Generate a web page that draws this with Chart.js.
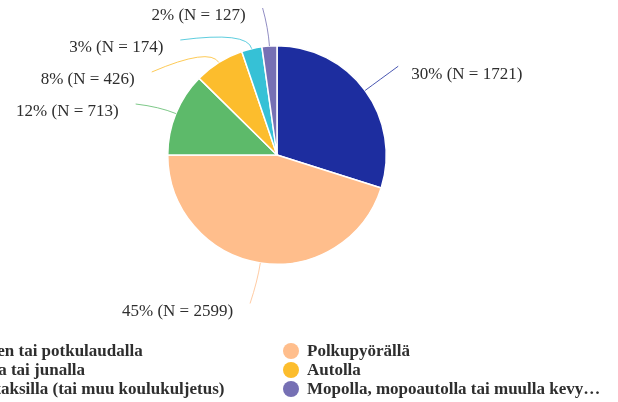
<!DOCTYPE html>
<html>
<head>
<meta charset="utf-8">
<script src="https://cdn.jsdelivr.net/npm/chart.js@4.4.1/dist/chart.umd.min.js"></script>
<style>
  html, body { margin: 0; padding: 0; background: #ffffff; }
  #chart { display: block; }
</style>
</head>
<body>
<canvas id="chart" width="618" height="402"></canvas>
<script>
(function () {
  'use strict';

  /*--------- DATA --------*/

  const categories = [
    'Kävellen tai potkulaudalla',
    'Polkupyörällä',
    'Bussilla tai junalla',
    'Autolla',
    'Koulutaksilla (tai muu koulukuljetus)',
    'Mopolla, mopoautolla tai muulla kevyellä moottoriajoneuvolla'
  ];
  const counts   = [1721, 2599, 713, 426, 174, 127];
  const percents = [30, 45, 12, 8, 3, 2];
  const colors   = ['#1d2d9f', '#ffbe8c', '#5dba6a', '#fcbd2d', '#36c1d6', '#7670b4'];


  /*--------- STYLE CONSTANTS --------*/

  const FONT = '"Liberation Serif", "Times New Roman", serif';
  const TEXT_COLOR = '#2e2e2e';

  const LABEL_DIST = 41;      // leader end distance outside the pie
  const LABEL_SPACING = 32;   // min vertical gap between labels on one side
  const LABEL_TOP = 8;        // labels may not go above this

  const LEGEND_X = [-66, 291];   // marker centres of the two legend columns
  const LEGEND_Y0 = 351;
  const LEGEND_ROW = 19;
  const LEGEND_TEXT_MAX = 297;


  // ── Outside labels with curved leader lines ──
  const outLabels = {
    id: 'outLabels',
    afterDatasetsDraw: function (chart) {
      const ctx = chart.ctx;
      const arcs = chart.getDatasetMeta(0).data;

      const items = arcs.map(function (arc, i) {
        const p = arc.getProps(['x', 'y', 'startAngle', 'endAngle', 'outerRadius'], true);
        const mid = (p.startAngle + p.endAngle) / 2;
        const R = p.outerRadius + LABEL_DIST;
        return {
          i: i, cx: p.x, cy: p.y, r: p.outerRadius, mid: mid, R: R,
          right: Math.cos(mid) >= 0,
          ix: p.x + Math.cos(mid) * R,
          iy: p.y + Math.sin(mid) * R
        };
      });

      // spread labels vertically on each side
      [true, false].forEach(function (side) {
        const group = items.filter(function (it) { return it.right === side; })
          .sort(function (a, b) { return a.iy - b.iy; });
        let prev = -Infinity;
        group.forEach(function (it) {
          it.ey = Math.max(it.iy, prev + LABEL_SPACING, LABEL_TOP);
          prev = it.ey;
          const dy = it.ey - it.cy;
          if (Math.abs(it.ey - it.iy) < 4) {
            it.ex = it.ix - (side ? 0 : 4);
          } else {
            it.ex = it.cx + (side ? 1 : -1) * Math.sqrt(Math.max(it.R * it.R - dy * dy, 0));
          }
        });
      });

      ctx.save();
      items.forEach(function (it) {
        const cos = Math.cos(it.mid), sin = Math.sin(it.mid);
        ctx.strokeStyle = colors[it.i];
        ctx.globalAlpha = 0.8;
        ctx.lineWidth = 1;
        ctx.beginPath();
        ctx.moveTo(it.cx + cos * it.r, it.cy + sin * it.r);
        ctx.quadraticCurveTo(it.cx + cos * (it.r + 18), it.cy + sin * (it.r + 18), it.ex, it.ey);
        ctx.stroke();

        ctx.globalAlpha = 1;
        ctx.fillStyle = TEXT_COLOR;
        ctx.font = '17px ' + FONT;
        ctx.textBaseline = 'middle';
        ctx.textAlign = it.right ? 'left' : 'right';
        const text = percents[it.i] + '% (N = ' + counts[it.i] + ')';
        ctx.fillText(text, it.ex + (it.right ? 13 : -17), it.ey + 8);
      });
      ctx.restore();
    }
  };


  // ── Two-column legend at the bottom ──
  function fitText(ctx, text, maxWidth) {
    if (ctx.measureText(text).width <= maxWidth) return text;
    let s = text;
    while (s.length > 0 && ctx.measureText(s + '…').width > maxWidth) {
      s = s.slice(0, -1);
    }
    return s + '…';
  }

  const columnLegend = {
    id: 'columnLegend',
    afterDraw: function (chart) {
      const ctx = chart.ctx;
      ctx.save();
      ctx.font = 'bold 17px ' + FONT;
      ctx.textBaseline = 'middle';
      ctx.textAlign = 'left';
      categories.forEach(function (label, i) {
        const x = LEGEND_X[i % 2];
        const y = LEGEND_Y0 + Math.floor(i / 2) * LEGEND_ROW;
        ctx.fillStyle = colors[i];
        ctx.beginPath();
        ctx.arc(x, y, 8, 0, Math.PI * 2);
        ctx.fill();
        ctx.fillStyle = TEXT_COLOR;
        ctx.fillText(fitText(ctx, label, LEGEND_TEXT_MAX), x + 16, y + 1);
      });
      ctx.restore();
    }
  };


  /*--------- CHART --------*/

  new Chart(document.getElementById('chart'), {
    type: 'pie',
    data: {
      labels: categories,
      datasets: [{
        data: counts,
        backgroundColor: colors,
        borderColor: '#ffffff',
        borderWidth: 1.5
      }]
    },
    options: {
      responsive: false,
      animation: false,
      layout: {
        padding: { top: 45, bottom: 137, left: 167, right: 231 }
      },
      plugins: {
        legend: { display: false },
        tooltip: { enabled: false }
      }
    },
    plugins: [outLabels, columnLegend]
  });

})();
</script>
</body>
</html>
